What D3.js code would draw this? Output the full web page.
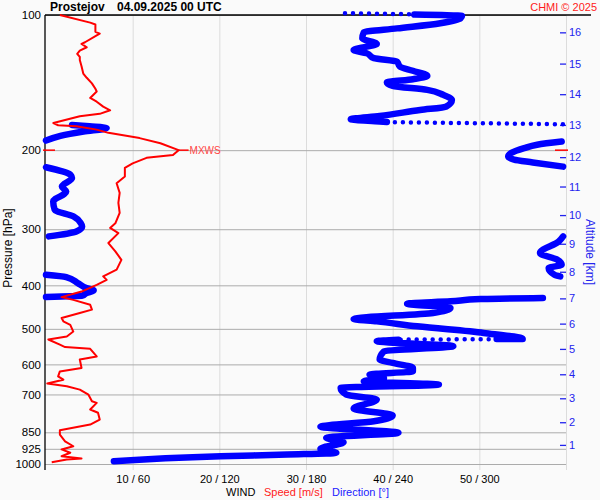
<!DOCTYPE html>
<html><head><meta charset="utf-8">
<script src="https://cdn.jsdelivr.net/npm/d3@7"></script>
<style>body{margin:0;background:#fafafa} svg{display:block;font-family:"Liberation Sans",Arial,sans-serif}</style>
</head><body><svg id="c" width="600" height="500"></svg>
<script>
const stationName = "Prostejov";
const dateLabel = "04.09.2025 00 UTC";
const creditLabel = "CHMI © 2025";
const pressureTicks = [100,200,300,400,500,600,700,850,925,1000];
const speedTicks = [10,20,30,40,50,60];
const speedTickLabels = ["10 / 60","20 / 120","30 / 180","40 / 240","50 / 300",""];
const altLabels = [1,2,3,4,5,6,7,8,9,10,11,12,13,14,15,16];
const altPressures = [906.7,807.2,713.9,631.2,554.2,486.8,427.7,373.1,323.2,279,241,207.3,175.7,150.1,128.3,109.3];
const mxwsPressure = 200;
const mxwsSpeed = 15.3;

const speedPressure = [100,104,105,109,110,111,115,116,118,120,122,124,126,130,135,138,142,146,148,153,156,160,163,166,168,174,176,177,180,183,188,193,200,205,208,214,219,229,237,249,262,276,291,298,306,322,336,351,369,382,389,399,413,425,431,442,453,461,473,481,490,507,520,528,542,549,554,576,585,611,622,638,649,662,671,683,701,725,731,756,769,796,817,841,860,890,913,928,944,961,972,977,991];
const speedValues = [1.6,5.1,5.7,5.7,6.2,5.85,4.5,4.1,4.7,3.9,3.6,3.9,3.9,4.1,4.3,4.7,5.3,5.7,5.85,5.1,5.85,6.6,7.4,6.2,3.9,0.85,1.4,3.5,5.85,7.2,10.8,13.2,15.3,14.65,11.6,10.0,9.1,9.1,8.15,8.5,8.35,8.5,8.0,7.4,8.35,7.2,8.0,8.7,8.15,6.6,7.0,5.85,4.1,1.8,3.15,5.1,5.3,3.9,1.8,2.0,2.8,3.15,2.4,0.27,1.6,2.2,5.1,5.85,3.9,4.1,1.6,1.4,2.0,0.15,2.4,3.9,4.9,5.3,5.85,5.1,6.0,6.2,5.1,1.6,1.6,2.2,3.15,1.8,2.8,1.8,4.1,2.4,0.66];

// direction (thick trace); null = break (wrap across 0/360)
const dirPressure = [99.8,100.4,101.7,104.3,107.1,109.3,112.7,116,117.6,119.6,121.7,124.8,127,130.3,133.1,136.7,139,141.4,143.8,146.8,150.6,154.6,160,162.8,167.8,170.7,172.7,173.2,
 null,175.7,177,178.6,181.8,185.9,190.4,
 null,191.4,194.5,198,203,206.7,210,213,217.6,
 null,218.3,227,230.8,241,247.3,260.3,271.5,281,290.6,295.8,303.4,311.2,
 null,311.2,319.5,338.9,350.8,360,366.1,378.9,382.2,
 null,378.9,383.4,395.4,405.6,410.6,416.1,421.9,424.6,
 null,426.8,429,434.3,439.5,449.3,460.9,475.3,481.2,493.6,510.6,526.6,527,
 null,528.6,532.8,546.6,560.8,585.4,595.5,611,621.6,632.3,643.1,654.4,665.5,676.9,700.5,718.7,752.5,780,803.1,826.4,852.3,874.4,894.3,925,944.3,952.6,961,985.9];
const dirValues = [255,288,287,273,243,220,219,229,222,213,222,227,243,245,254,264,254,236,240,264,275,281,277,259,231,211,231,236,
 null,18,30,42,26,10,0,
 null,357,340,331,322,320,324,337,358,
 null,0,17,18,11,14,5,6,19,24,25,21,2,
 null,358,355,342,354,357,348,352,356,
 null,0,14,22,28,33,28,25,0,
 null,344,301,280,250,280,268,213,229,257,303,330,312,
 null,244,229,282,234,231,240,254,254,224,234,220,272,204,208,229,213,240,227,190,244,194,206,190,201,167,121,47];
// direction (sparse points, fast turning)
const dotPressure = [99.1,99.6, null,173.2,175.1, null,527,528.6];
const dotValues   = [207,252, null,236,358, null,312,244];

const FONT = "Liberation Sans, Arial, sans-serif";
const svg = d3.select("#c");
const y = d3.scaleLog().domain([100,1000]).range([15,464]);
const xs = d3.scaleLinear().domain([0,60]).range([46,566]);
const xd = d3.scaleLinear().domain([0,360]).range([46,566]);
const axisX0 = 45, plotTop = 15, plotBottom = 470;

// vertical grid + bottom labels
const gx = svg.append("g").attr("transform",`translate(0,${plotBottom})`)
  .call(d3.axisBottom(xs).tickValues(speedTicks).tickSize(-(plotBottom-plotTop)).tickPadding(5)
    .tickFormat((d,i)=>speedTickLabels[i]));
gx.select(".domain").remove();
gx.selectAll("line").attr("stroke","#dcdcdc");
gx.selectAll("text").attr("font-size",11).attr("fill","#000").attr("font-family",FONT);

// horizontal grid + pressure labels
const gy = svg.append("g").attr("transform",`translate(${axisX0},0)`)
  .call(d3.axisLeft(y).tickValues(pressureTicks).tickSize(-(xs(60)-axisX0)).tickPadding(4)
    .tickFormat(d3.format("d")));
gy.select(".domain").remove();
gy.selectAll("line").attr("stroke","#ababab");
gy.selectAll("text").attr("font-size",11.5).attr("fill","#000").attr("font-family",FONT);

// altitude axis
const ga = svg.append("g").attr("transform",`translate(${xs(60)},0)`)
  .call(d3.axisRight(y).tickValues(altPressures).tickSize(-6).tickPadding(3)
    .tickFormat((d,i)=>altLabels[i]));
ga.select(".domain").remove();
ga.selectAll("line").attr("stroke","#2323ee").attr("stroke-width",1.3);
ga.selectAll("text").attr("font-size",11).attr("fill","#2323ee").attr("font-family",FONT);

// frame lines
svg.append("line").attr("x1",axisX0).attr("x2",axisX0).attr("y1",plotTop).attr("y2",plotBottom).attr("stroke","#000").attr("stroke-width",1.3);
svg.append("line").attr("x1",axisX0).attr("x2",591).attr("y1",plotTop).attr("y2",plotTop).attr("stroke","#000").attr("stroke-width",1.3);

// direction trace
const dirLine = d3.line().defined(d=>d[0]!==null).x(d=>xd(d[1])).y(d=>y(d[0])).curve(d3.curveMonotoneY);
svg.append("path").datum(dirPressure.map((p,i)=>[p,dirValues[i]]))
  .attr("d",dirLine).attr("fill","none").attr("stroke","#0000ff").attr("stroke-width",6.5)
  .attr("stroke-linecap","round").attr("stroke-linejoin","round");
const dotLine = d3.line().defined(d=>d[0]!==null).x(d=>xd(d[1])).y(d=>y(d[0]));
svg.append("path").datum(dotPressure.map((p,i)=>[p,dotValues[i]]))
  .attr("d",dotLine).attr("fill","none").attr("stroke","#0000ff").attr("stroke-width",4.5)
  .attr("stroke-linecap","round").attr("stroke-dasharray","0 8");

// speed trace
const spLine = d3.line().x(d=>xs(d[1])).y(d=>y(d[0]));
svg.append("path").datum(speedPressure.map((p,i)=>[p,speedValues[i]]))
  .attr("d",spLine).attr("fill","none").attr("stroke","#ff0000").attr("stroke-width",2)
  .attr("stroke-linejoin","round");

// MXWS marker
const my = y(mxwsPressure);
svg.append("line").attr("x1",xs(0)-3).attr("x2",xs(0)+9).attr("y1",my).attr("y2",my).attr("stroke","#ff0000").attr("stroke-width",1.5);
svg.append("line").attr("x1",xs(60)-11).attr("x2",xs(60)+2).attr("y1",my).attr("y2",my).attr("stroke","#ff0000").attr("stroke-width",1.5);
svg.append("line").attr("x1",xs(mxwsSpeed)).attr("x2",xs(mxwsSpeed)+10).attr("y1",my).attr("y2",my).attr("stroke","#ff0000").attr("stroke-width",1.5);
svg.append("text").attr("x",xs(mxwsSpeed)+11).attr("y",my+4).attr("font-size",10).attr("fill","#ff4444").text("MXWS");

// titles
const t = svg.append("text").attr("x",50).attr("y",11).attr("font-size",12).attr("font-weight","bold").attr("fill","#000");
t.append("tspan").text(stationName);
t.append("tspan").attr("x",117).text(dateLabel);
svg.append("text").attr("x",597).attr("y",11).attr("text-anchor","end").attr("font-size",11).attr("fill","#ff1a1a").text(creditLabel);

svg.append("text").attr("transform","translate(12,248) rotate(-90)").attr("text-anchor","middle")
  .attr("font-size",12).attr("fill","#000").text("Pressure [hPa]");
svg.append("text").attr("transform","translate(586,252) rotate(90)").attr("text-anchor","middle")
  .attr("font-size",12).attr("fill","#2323ee").text("Altitude [km]");

const lg = svg.append("g").attr("font-size",11);
lg.append("text").attr("x",226).attr("y",496).attr("fill","#000").text("WIND");
lg.append("text").attr("x",264).attr("y",496).attr("fill","#ff1a1a").text("Speed [m/s]");
lg.append("text").attr("x",332).attr("y",496).attr("fill","#1a1aff").text("Direction [°]");
</script></body></html>
